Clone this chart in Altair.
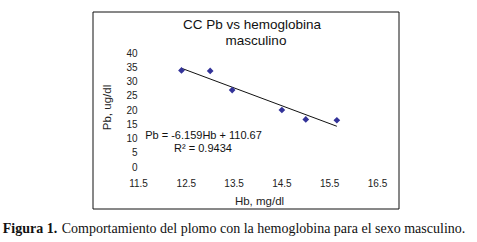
import altair as alt
import pandas as pd

# Data
hb = [12.41, 13.01, 13.47, 14.51, 15.01, 15.66]
pb = [33.9, 33.7, 27.0, 20.0, 16.7, 16.4]

x_ticks = [11.5, 12.5, 13.5, 14.5, 15.5, 16.5]
y_ticks = [0, 5, 10, 15, 20, 25, 30, 35, 40]

title_lines = ["CC Pb vs hemoglobina", "masculino"]
x_title = "Hb, mg/dl"
y_title = "Pb, ug/dl"
equation = "Pb = -6.159Hb + 110.67"
r2_text = "R² = 0.9434"
caption_bold = "Figura 1."
caption_rest = "Comportamiento del plomo con la hemoglobina para el sexo masculino."

df = pd.DataFrame({"Hb": hb, "Pb": pb})

SANS = "Liberation Sans"
SERIF = "Liberation Serif"
W, H = 239, 114

xscale = alt.Scale(domain=[11.5, 16.5], nice=False, zero=False)
yscale = alt.Scale(domain=[0, 40], nice=False)

x_enc = alt.X(
    "Hb:Q",
    scale=xscale,
    axis=alt.Axis(
        values=x_ticks, format=".1f", grid=False, domain=False, ticks=False,
        labelFont=SANS, labelFontSize=10, labelColor="#222",
        labelBaseline="middle", labelPadding=16, labelFlush=False,
        labelOverlap=False,
        title=x_title, titleFont=SANS, titleFontSize=11.5,
        titleFontWeight="normal", titleColor="#222",
        titleX=121, titleY=37, titleBaseline="alphabetic", titleAlign="center",
    ),
)
y_enc = alt.Y(
    "Pb:Q",
    scale=yscale,
    axis=alt.Axis(
        values=y_ticks, tickCount=9, grid=False, domain=False, ticks=False,
        labelFont=SANS, labelFontSize=10, labelColor="#222",
        labelPadding=1, labelFlush=False, labelOverlap=False,
        title=y_title, titleFont=SANS, titleFontSize=11.5,
        titleFontWeight="normal", titleColor="#222",
        titleX=-31, titleY=54, titleAngle=270, titleBaseline="middle",
        titleAlign="center",
    ),
)

base = alt.Chart(df)

points = base.mark_point(
    shape="diamond", filled=True, size=45, color="#333399", opacity=1
).encode(x=x_enc, y=y_enc)

trend = base.transform_regression("Hb", "Pb").mark_line(
    color="#111", strokeWidth=1
).encode(x=x_enc, y=y_enc)

frame = alt.Chart(pd.DataFrame({"a": [0]})).mark_rect(
    fill=None, stroke="#111", strokeWidth=1
).encode(
    x=alt.value(-45), x2=alt.value(261), y=alt.value(-41), y2=alt.value(156)
)


def label(text, x, y, size, font=SANS, weight="normal", align="center"):
    return alt.Chart(pd.DataFrame({"t": [text]})).mark_text(
        font=font, fontSize=size, fontWeight=weight, align=align,
        baseline="alphabetic", color="#111"
    ).encode(text="t:N", x=alt.value(x), y=alt.value(y))


texts = [
    label(title_lines[0], 114, -23.7, 13.5),
    label(title_lines[1], 118, -7.7, 13.5),
    label(equation, 65.5, 85.5, 11),
    label(r2_text, 65, 98.5, 11),
    label(caption_bold, -135.3, 180.3, 14, font=SERIF, weight="bold", align="left"),
    label(caption_rest, -76.3, 180.3, 14, font=SERIF, align="left"),
]

chart = alt.layer(trend, points, frame, *texts).properties(
    width=W,
    height=H,
    autosize=alt.AutoSizeParams(type="none"),
    padding={"left": 138, "top": 53, "right": 100, "bottom": 75},
    background="white",
).configure_view(stroke=None)

chart.save("out.html", embed_options={"renderer": "svg", "actions": False})
